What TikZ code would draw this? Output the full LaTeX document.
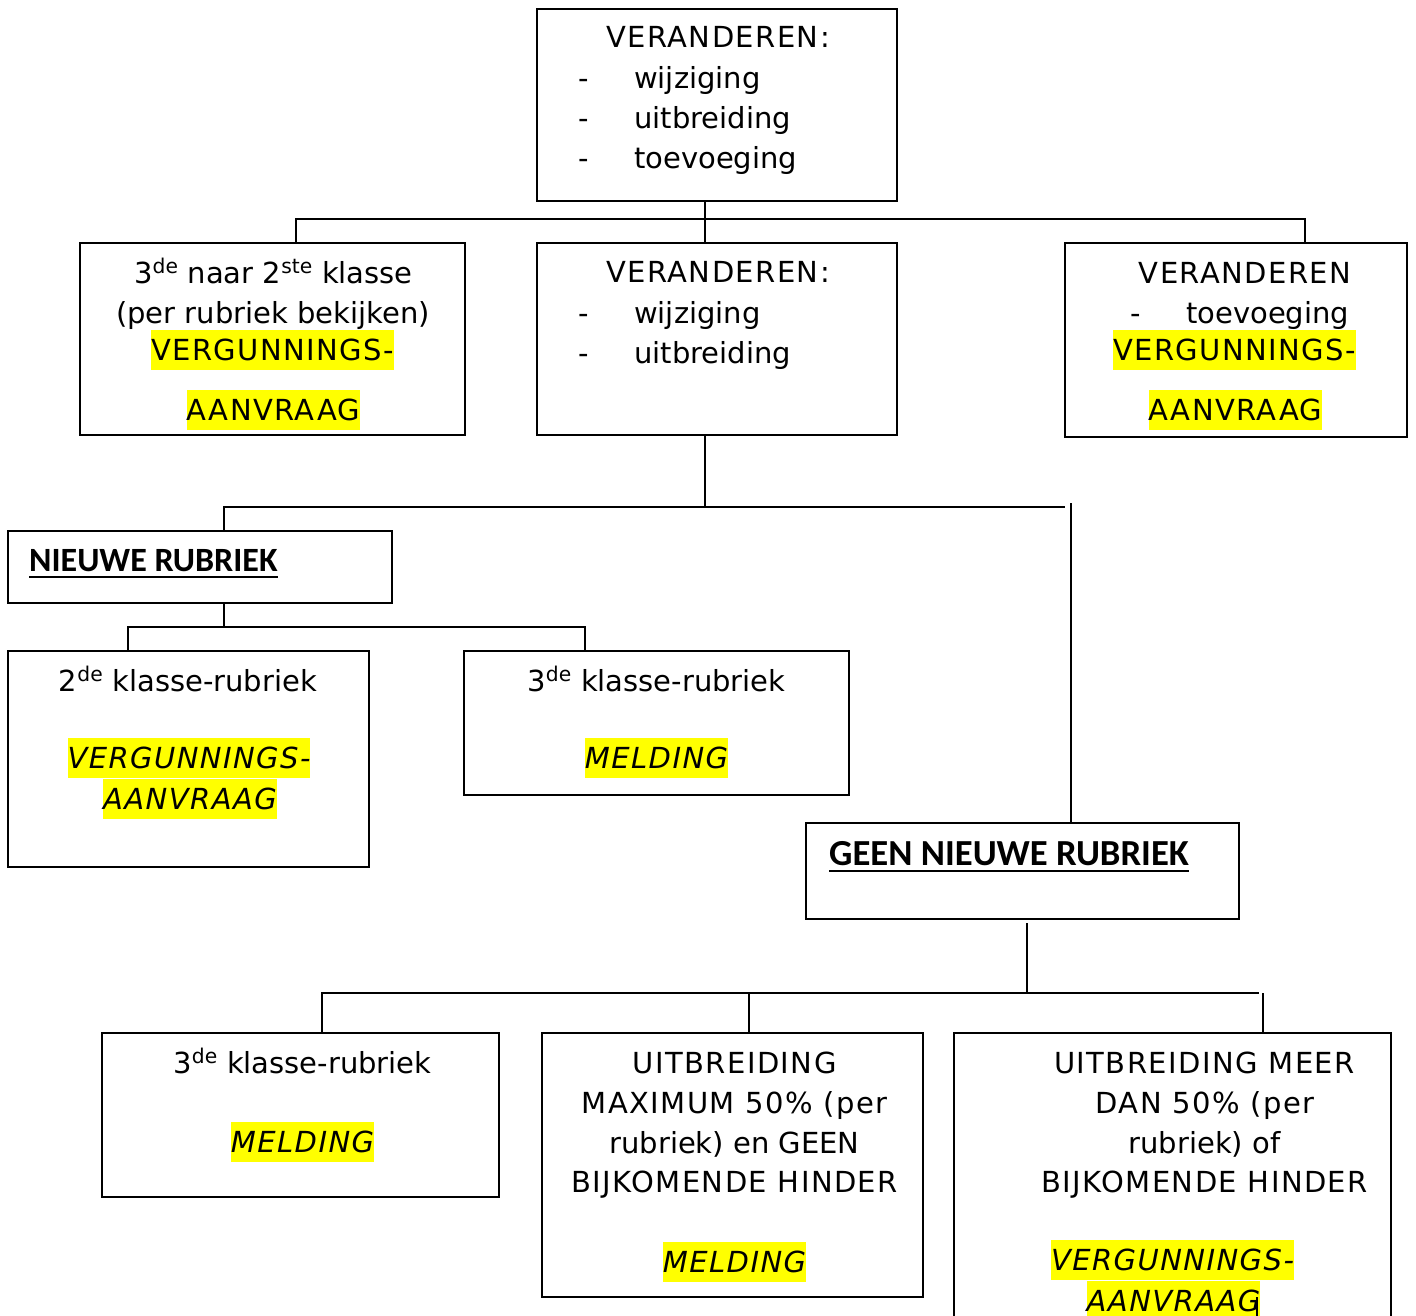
\documentclass[tikz,border=0pt]{standalone}
\usepackage{fontspec}
\setmainfont{DejaVu Sans}
\newfontfamily\capsfont{DejaVu Sans}[LetterSpace=5]
\newfontfamily\calfont{Carlito}
\usetikzlibrary{calc}
\definecolor{hlyellow}{RGB}{255,255,0}
\tikzset{
  box/.style={draw, line width=1.7pt, inner sep=0pt, rectangle},
  txt/.style={anchor=base, inner sep=0pt, font=\fontsize{29}{40}\selectfont},
  captxt/.style={txt, font=\fontsize{29}{40}\selectfont\capsfont},
  itm/.style={txt, anchor=base west},
  hl/.style={captxt, fill=hlyellow, text height=30pt, text depth=10pt},
  hli/.style={hl, font=\fontsize{29}{40}\selectfont\capsfont\itshape},
  head/.style={anchor=base west, inner sep=0pt, font=\fontsize{34}{40}\selectfont\calfont\bfseries},
  wire/.style={line width=1.7pt},
  uline/.style={line width=2.6pt},
}
\begin{document}
\begin{tikzpicture}[x=1pt,y=-1pt]
\useasboundingbox (0,0) rectangle (1416,1315);
\clip (0,0) rectangle (1416,1315);
\fill[white] (0,0) rectangle (1416,1315);

% boxes
\node[box, minimum width=360pt, minimum height=192pt] (A) at (717,105) {};
\node[box, minimum width=360pt, minimum height=192pt] (B) at (717,339) {};
\node[box, minimum width=385pt, minimum height=192pt] (C1) at (272.5,339) {};
\node[box, minimum width=342pt, minimum height=194pt] (C3) at (1236,340) {};
\node[box, minimum width=384pt, minimum height=72pt] (NR) at (200,567) {};
\node[box, minimum width=361pt, minimum height=216pt] (D1) at (188.5,759) {};
\node[box, minimum width=385pt, minimum height=144pt] (D2) at (656.5,723) {};
\node[box, minimum width=433pt, minimum height=96pt] (GNR) at (1022.5,871) {};
\node[box, minimum width=397pt, minimum height=164pt] (E1) at (300.5,1115) {};
\node[box, minimum width=381pt, minimum height=264pt] (E2) at (732.5,1165) {};
\node[box, minimum width=437pt, minimum height=312pt] (E3) at (1172.5,1189) {};

% texts A
\node[captxt] (a1) at (718,47) {VERANDEREN:};
\node[txt] (a2d) at (584,88) {-};
\node[itm] (a2) at (634,88) {wijziging};
\node[txt] (a3d) at (584,128) {-};
\node[itm] (a3) at (634,128) {uitbreiding};
\node[txt] (a4d) at (584,168) {-};
\node[itm] (a4) at (634,168) {toevoeging};

% texts B
\node[captxt] (b1) at (718,282) {VERANDEREN:};
\node[txt] (b2d) at (584,323) {-};
\node[itm] (b2) at (634,323) {wijziging};
\node[txt] (b3d) at (584,363) {-};
\node[itm] (b3) at (634,363) {uitbreiding};

% texts C1
\node[txt] (c11) at (273.5,283) {3\textsuperscript{de} naar 2\textsuperscript{ste} klasse};
\node[txt] (c12) at (273,323) {(per rubriek bekijken)};
\node[hl] (c13) at (272.5,360) {VERGUNNINGS-};
\node[hl] (c14) at (273.5,420) {AANVRAAG};

% texts C3
\node[captxt] (c31) at (1245,283) {VERANDEREN};
\node[txt] (c32d) at (1136,323) {-};
\node[itm] (c32) at (1186,323) {toevoeging};
\node[hl] (c33) at (1234.5,360) {VERGUNNINGS-};
\node[hl] (c34) at (1235.5,420) {AANVRAAG};

% NR
\node[head] (nrt) at (29,571) {NIEUWE RUBRIEK};
\draw[uline] ([yshift=-6pt]nrt.base west) -- ([yshift=-6pt]nrt.base east);

% D1, D2
\node[txt] (d11) at (188,691) {2\textsuperscript{de} klasse-rubriek};
\node[hli] (d12) at (189,768) {VERGUNNINGS-};
\node[hli] (d13) at (190,809) {AANVRAAG};
\node[txt] (d21) at (656.5,691) {3\textsuperscript{de} klasse-rubriek};
\node[hli] (d22) at (656.5,768) {MELDING};

% GNR
\node[head, font=\fontsize{36.7}{40}\selectfont\calfont\bfseries] (gnrt) at (829,865) {GEEN NIEUWE RUBRIEK};
\draw[uline] ([yshift=-6pt]gnrt.base west) -- ([yshift=-6pt]gnrt.base east);

% E1
\node[txt] (e11) at (302.5,1073) {3\textsuperscript{de} klasse-rubriek};
\node[hli] (e12) at (302.5,1152) {MELDING};

% E2
\node[captxt] (e21) at (734.5,1073) {UITBREIDING};
\node[captxt] (e22) at (734.5,1113) {MAXIMUM 50\% (per};
\node[txt] (e23) at (734.5,1153) {rubriek) en GEEN};
\node[captxt] (e24) at (734.5,1192) {BIJKOMENDE HINDER};
\node[hli] (e25) at (734.5,1272) {MELDING};

% E3
\node[captxt] (e31) at (1204.5,1073) {UITBREIDING MEER};
\node[captxt] (e32) at (1205,1113) {DAN 50\% (per};
\node[txt] (e33) at (1204.5,1153) {rubriek) of};
\node[captxt] (e34) at (1204.5,1192) {BIJKOMENDE HINDER};
\node[hli] (e35) at (1172.5,1270) {VERGUNNINGS-};
\node[hli] (e36) at (1173.5,1311) {AANVRAAG};

% connector coordinates
\coordinate (jA) at (705,219);
\coordinate (jL) at (296,219);
\coordinate (jR) at (1305,219);
\coordinate (k1) at (705,507);
\coordinate (kL) at (224,507);
\coordinate (kR) at (1065,507);
\coordinate (kV) at (1071,503);
\coordinate (m) at (224,627);
\coordinate (mL) at (128,627);
\coordinate (mR) at (585,627);
\coordinate (n0) at (1027,923);
\coordinate (n) at (1027,993);
\coordinate (nL) at (322,993);
\coordinate (nR) at (1259,993);
\coordinate (nM) at (749,993);
\coordinate (nV) at (1263,993);
\coordinate (tk) at (1257,1297);
\coordinate (tk2) at (1257,1316);

% connectors
\draw[wire] (A.south -| jA) -- (B.north -| jA);
\draw[wire] (C1.north -| jL) -- (jL) -- (jR) -- (C3.north -| jR);
\draw[wire] (B.south -| k1) -- (k1);
\draw[wire] (NR.north -| kL) -- (kL) -- (kR);
\draw[wire] (kV) -- (GNR.north -| kV);
\draw[wire] (NR.south -| m) -- (m);
\draw[wire] (D1.north -| mL) -- (mL) -- (mR) -- (D2.north -| mR);
\draw[wire] (n0) -- (n);
\draw[wire] (E1.north -| nL) -- (nL) -- (nR);
\draw[wire] (nM) -- (E2.north -| nM);
\draw[wire] (nV) -- (E3.north -| nV);
\draw[wire] (tk) -- (tk2);
\end{tikzpicture}
\end{document}
